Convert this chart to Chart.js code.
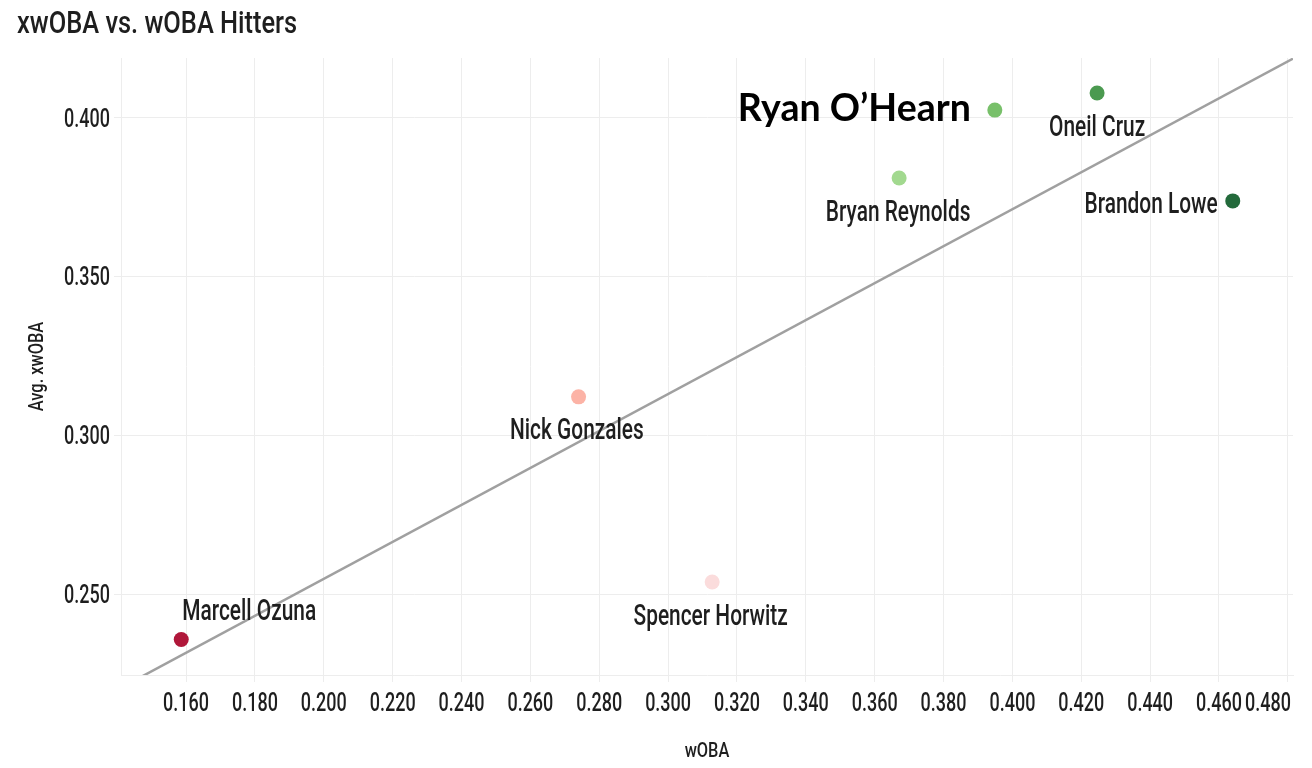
<!DOCTYPE html>
<html><head><meta charset="utf-8">
<script src="https://cdn.jsdelivr.net/npm/chart.js@4/dist/chart.umd.min.js"></script>
<style>html,body{margin:0;padding:0;background:#fff}#wrap{width:1312px;height:768px;position:relative}canvas{display:block}</style>
</head><body><div id="wrap"><canvas id="c" width="1312" height="768"></canvas></div>
<script>
// ---- data ----
const players = ['Marcell Ozuna','Nick Gonzales','Spencer Horwitz','Bryan Reynolds','Ryan O\u2019Hearn','Oneil Cruz','Brandon Lowe'];
const wOBA  = [0.1586, 0.2740, 0.3128, 0.3671, 0.3949, 0.4246, 0.4640];
const xwOBA = [0.2357, 0.3121, 0.2538, 0.3810, 0.4024, 0.4078, 0.3738];
const pointColors = ['#b0173a','#fcb3a6','#fbdcdc','#a2d98f','#78c06a','#4b9a50','#236a3b'];
const fitLineX = [0.1411, 0.4815];
const fitLineY = [0.2205, 0.4186];
const xTickValues = [0.16,0.18,0.20,0.22,0.24,0.26,0.28,0.30,0.32,0.34,0.36,0.38,0.40,0.42,0.44,0.46,0.48];
const yTickValues = [0.25,0.30,0.35,0.40];
const titleText = 'xwOBA vs. wOBA Hitters';
const xTitle = 'wOBA';
const yTitle = 'Avg. xwOBA';

// ---- styling / layout ----
const FAM = "Roboto,'Liberation Sans',sans-serif";
const TXT = '#1e1e1e';
const GRID = '#ededed';
const SX = 0.72;               // horizontal compression to mimic a condensed face
const labelLayout = [
  {dx: 1,   dy: -29.3, align: 'left'},
  {dx: -1.7,dy: 32.3,  align: 'center'},
  {dx: -1.5,dy: 33,    align: 'center'},
  {dx: -1,  dy: 33,    align: 'center'},
  {dx: -24, dy: -2,    align: 'right', big: true},
  {dx: 0,   dy: 33,    align: 'center'},
  {dx: -15, dy: 2,     align: 'right'}
];

function drawText(ctx, text, x, y, o) {
  ctx.save();
  ctx.translate(x, y);
  if (o.rotate) ctx.rotate(o.rotate);
  ctx.scale(o.sx || 1, 1);
  ctx.font = o.font;
  ctx.fillStyle = o.color || TXT;
  ctx.textAlign = o.align || 'left';
  ctx.textBaseline = 'alphabetic';
  ctx.fillText(text, 0, 0);
  ctx.restore();
}

const textPlugin = {
  id: 'allText',
  afterDraw(chart) {
    const {ctx, scales: {x, y}, chartArea: ca} = chart;
    // title
    drawText(ctx, titleText, 17, 33, {font: '500 31px ' + FAM, sx: 0.82});
    // y tick labels
    const tickFont = '500 25px ' + FAM;
    yTickValues.forEach(v => {
      drawText(ctx, v.toFixed(3), ca.left - 11, y.getPixelForValue(v) + 8.9, {font: tickFont, sx: SX, align: 'right'});
    });
    // x tick labels
    ctx.save(); ctx.font = tickFont;
    xTickValues.forEach(v => {
      const s = v.toFixed(3);
      const w = ctx.measureText(s).width * SX;
      let px = x.getPixelForValue(v), al = 'center';
      if (px + w / 2 > chart.width - 21) { px = chart.width - 21; al = 'right'; }
      drawText(ctx, s, px, 711, {font: tickFont, sx: SX, align: al});
    });
    ctx.restore();
    // axis titles
    drawText(ctx, xTitle, (ca.left + ca.right) / 2, 757, {font: '500 21px ' + FAM, sx: 0.78, align: 'center'});
    drawText(ctx, yTitle, 43, (ca.top + ca.bottom) / 2, {font: '500 21px ' + FAM, sx: 0.78, align: 'center', rotate: -Math.PI / 2});
    // point labels
    players.forEach((name, i) => {
      const L = labelLayout[i];
      const px = x.getPixelForValue(wOBA[i]) + L.dx;
      const py = y.getPixelForValue(xwOBA[i]) + L.dy;
      if (L.big) {
        drawText(ctx, name, px, py + 12.8, {font: "bold 37.5px Lato,'Open Sans',sans-serif", color: '#000', align: L.align});
      } else {
        drawText(ctx, name, px, py + 10.3, {font: '500 29px ' + FAM, sx: SX, align: L.align});
      }
    });
  }
};

new Chart(document.getElementById('c'), {
  type: 'scatter',
  data: {
    datasets: [
      {
        type: 'line',
        data: fitLineX.map((v, i) => ({x: v, y: fitLineY[i]})),
        borderColor: '#a0a0a0', borderWidth: 2.5, pointRadius: 0, fill: false, order: 2
      },
      {
        data: wOBA.map((v, i) => ({x: v, y: xwOBA[i]})),
        backgroundColor: pointColors, borderWidth: 0,
        pointRadius: 7.5, pointHoverRadius: 7.5, order: 1
      }
    ]
  },
  options: {
    responsive: false, animation: false,
    layout: {padding: {left: 0, right: 19, top: 58, bottom: 0}},
    plugins: {legend: {display: false}, tooltip: {enabled: false}},
    scales: {
      x: {
        type: 'linear', min: 0.1411, max: 0.4815,
        afterFit(s) { s.height = 93; s.paddingLeft = 0; s.paddingRight = 0; },
        afterBuildTicks(s) { s.ticks = xTickValues.map(v => ({value: v})); },
        ticks: {display: false, autoSkip: false},
        grid: {color: GRID, lineWidth: 1, tickLength: 7, tickColor: GRID},
        border: {display: true, color: GRID}
      },
      y: {
        type: 'linear', min: 0.2245, max: 0.4188,
        afterFit(s) { s.width = 121; s.paddingTop = 0; s.paddingBottom = 0; },
        afterBuildTicks(s) { s.ticks = yTickValues.map(v => ({value: v})); },
        ticks: {display: false, autoSkip: false},
        grid: {color: GRID, lineWidth: 1, tickLength: 7, tickColor: GRID},
        border: {display: true, color: GRID}
      }
    }
  },
  plugins: [textPlugin]
});
</script>
</body></html>
